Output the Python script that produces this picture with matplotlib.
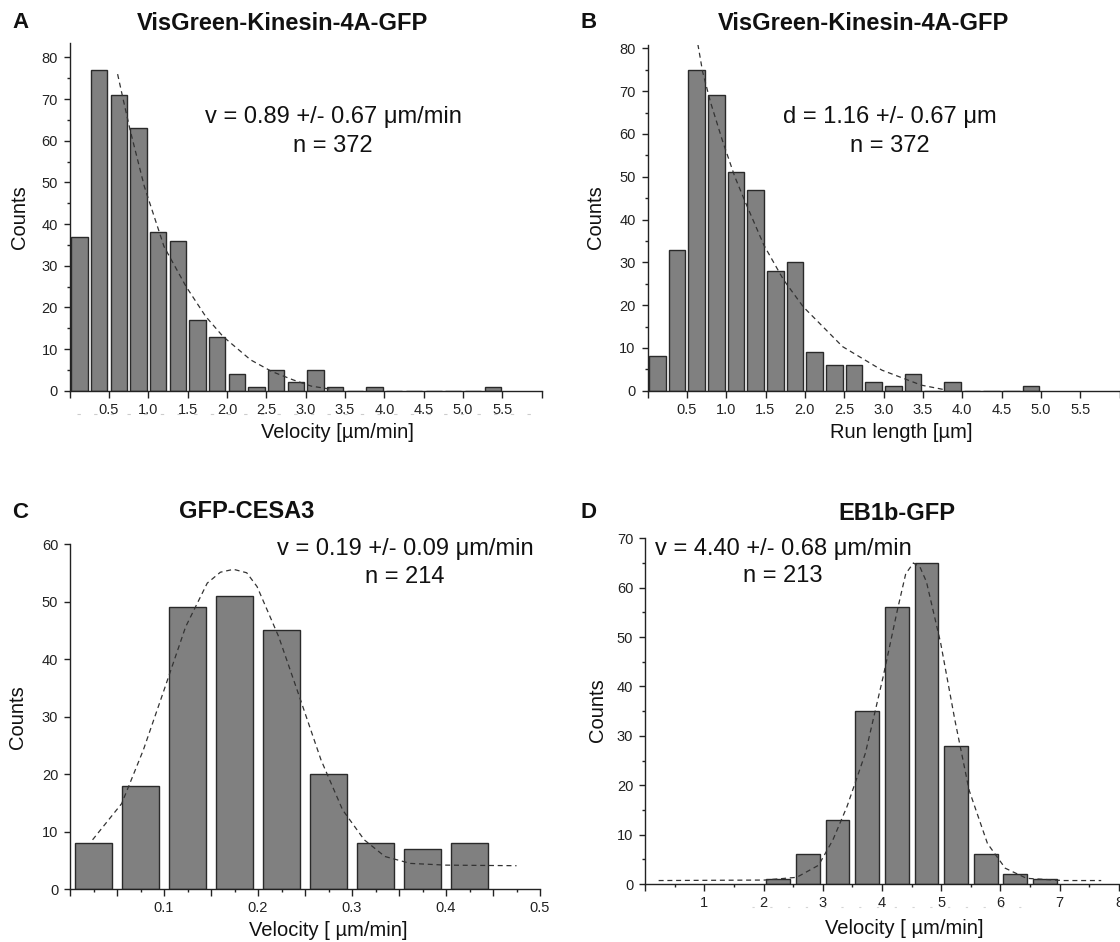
import numpy as np
import matplotlib
matplotlib.use('Agg')
import matplotlib.pyplot as plt
from matplotlib.ticker import MultipleLocator, FuncFormatter
import matplotlib.transforms as mtransforms

plt.rcParams['font.family'] = ['Liberation Sans', 'DejaVu Sans']

# --- dados ---
# A: velocidade VisGreen-Kinesin-4A-GFP (bins de 0.25)
a_centers = [0.125, 0.375, 0.625, 0.875, 1.125, 1.375, 1.625, 1.875, 2.125, 2.375, 2.625,
             2.875, 3.125, 3.375, 3.625, 3.875, 4.125, 4.375, 4.625, 4.875, 5.125, 5.375]
a_counts = [37, 77, 71, 63, 38, 36, 17, 13, 4, 1, 5, 2, 5, 1, 0, 1, 0, 0, 0, 0, 0, 1]
a_fit_x = [0.61, 0.68, 0.77, 0.95, 1.2, 1.48, 1.73, 1.95, 2.3, 2.57, 2.84, 3.07, 3.34]
a_fit_y = [76, 70, 62.5, 49, 34.6, 25, 17.8, 13, 7.4, 4.6, 2.6, 1.1, 0.3]

# B: run length (bins de 0.25)
b_centers = [0.125, 0.375, 0.625, 0.875, 1.125, 1.375, 1.625, 1.875, 2.125, 2.375,
             2.625, 2.875, 3.125, 3.375, 3.625, 3.875, 4.125, 4.375, 4.625, 4.875]
b_counts = [8, 33, 75, 69, 51, 47, 28, 30, 9, 6, 6, 2, 1, 4, 0, 2, 0, 0, 0, 1]
b_fit_x = [0.64, 0.70, 0.80, 0.95, 1.11, 1.25, 1.48, 1.73, 1.98, 2.48, 2.98, 3.48, 3.8]
b_fit_y = [81, 74.6, 67.5, 58.6, 50, 43.8, 34, 25.9, 19.6, 10.3, 4.8, 1.3, 0.15]

# C: GFP-CESA3 (bins de 0.05)
c_centers = [0.025, 0.075, 0.125, 0.175, 0.225, 0.275, 0.325, 0.375, 0.425]
c_counts = [8, 18, 49, 51, 45, 20, 8, 7, 8]
c_fit_x = [0.024, 0.055, 0.078, 0.1, 0.123, 0.146, 0.16, 0.174, 0.188, 0.199, 0.222, 0.244,
           0.267, 0.29, 0.313, 0.335, 0.362, 0.4, 0.475]
c_fit_y = [8.6, 14.9, 24.2, 34.6, 45.6, 53.2, 55.1, 55.6, 55.0, 52.6, 43.9, 33.5,
           22.5, 13.8, 8.6, 5.7, 4.5, 4.2, 4.1]

# D: EB1b-GFP (bins de 0.5)
d_centers = [2.25, 2.75, 3.25, 3.75, 4.25, 4.75, 5.25, 5.75, 6.25, 6.75]
d_counts = [1, 6, 13, 35, 56, 65, 28, 6, 2, 1]
d_fit_x = [0.23, 2.02, 2.56, 2.93, 3.17, 3.41, 3.72, 4.02, 4.26, 4.40, 4.53, 4.64, 4.75,
           4.99, 5.23, 5.47, 5.78, 6.08, 6.44, 7.05, 7.7]
d_fit_y = [0.7, 0.8, 1.35, 3.8, 8.9, 15.7, 26.5, 42, 55.5, 62.8, 65, 64.2, 61.2,
           48.8, 33.2, 19, 8.2, 3.2, 1.15, 0.7, 0.7]

W, H = 1120, 942
fig = plt.figure(figsize=(W / 100, H / 100), dpi=100)


def px(x, y):
    # pixel (origem em cima) -> fracao da figura
    return x / W, 1 - y / H


def make_axes(left, right, top, bottom):
    return fig.add_axes([left / W, 1 - bottom / H, (right - left) / W, (bottom - top) / H])


def style(ax, ymax, yminor):
    ax.spines['top'].set_visible(False)
    ax.spines['right'].set_visible(False)
    for s in ['left', 'bottom']:
        ax.spines[s].set_linewidth(1.0)
        ax.spines[s].set_color('#222222')
    ax.set_ylim(0, ymax)
    ax.yaxis.set_major_locator(MultipleLocator(10))
    if yminor:
        ax.yaxis.set_minor_locator(MultipleLocator(5))
    ax.tick_params(axis='both', which='both', direction='out', color='#222222',
                   labelcolor='#222222', labelsize=10.5, width=1.0)
    ax.tick_params(axis='y', which='major', length=4.5, pad=4)
    ax.tick_params(axis='y', which='minor', length=2.2)
    ax.tick_params(axis='x', which='major', length=5, pad=3.5)
    ax.tick_params(axis='x', which='minor', length=2.5)


def draw(ax, centers, counts, width, fx, fy):
    ax.bar(centers, counts, width=width, color='#808080', edgecolor='#2a2a2a',
           linewidth=1.0, zorder=2)
    ax.plot(fx, fy, color='#333333', lw=0.9, ls=(0, (4, 3)), zorder=3)


txt = dict(color='#111111')

# ---------- A ----------
axA = make_axes(69.6, 541.8, 43.3, 390.7)
draw(axA, a_centers, a_counts, 0.205, a_fit_x, a_fit_y)
style(axA, 83.4, True)
axA.set_xlim(0, 6)
axA.xaxis.set_major_locator(MultipleLocator(0.5))
axA.xaxis.set_major_formatter(FuncFormatter(lambda v, p: '' if v < 0.01 or v > 5.9 else f'{v:.1f}'))
# marcas cinzas fracas abaixo dos rotulos (artefato da figura original)
trA = mtransforms.blended_transform_factory(axA.transData, fig.transFigure)
axA.plot([0.1, 6.0], [1 - 414 / H] * 2, transform=trA, color='#cccccc', lw=0.8,
         ls=(0, (3, 12)), clip_on=False)

# ---------- B ----------
axB = make_axes(647.5, 1119.5, 45, 390.7)
draw(axB, b_centers, b_counts, 0.21, b_fit_x, b_fit_y)
style(axB, 80.8, True)
axB.set_xlim(0, 6)
axB.xaxis.set_major_locator(MultipleLocator(0.5))
axB.xaxis.set_major_formatter(FuncFormatter(lambda v, p: '' if v < 0.01 or v > 5.9 else f'{v:.1f}'))

# ---------- C ----------
axC = make_axes(70, 540, 544, 889.3)
draw(axC, c_centers, c_counts, 0.04, c_fit_x, c_fit_y)
style(axC, 60, False)
axC.set_xlim(0, 0.5)
axC.xaxis.set_major_locator(MultipleLocator(0.05))
axC.xaxis.set_minor_locator(MultipleLocator(0.025))
axC.xaxis.set_major_formatter(FuncFormatter(
    lambda v, p: f'{v:.1f}' if v > 0.01 and round(v * 100) % 10 == 0 else ''))

# ---------- D ----------
axD = make_axes(645, 1119, 538.3, 884)
draw(axD, d_centers, d_counts, 0.4, d_fit_x, d_fit_y)
style(axD, 70, True)
axD.set_xlim(0, 8)
axD.xaxis.set_major_locator(MultipleLocator(1))
axD.xaxis.set_minor_locator(MultipleLocator(0.5))
axD.xaxis.set_major_formatter(FuncFormatter(lambda v, p: '' if v < 0.5 else f'{v:.0f}'))
trD = mtransforms.blended_transform_factory(axD.transData, fig.transFigure)
axD.plot([1.8, 6.6], [1 - 907 / H] * 2, transform=trD, color='#d5d5d5', lw=0.8,
         ls=(0, (2, 14)), clip_on=False)

# ---------- textos ----------
# letras dos paineis
for letter, x, y in [('A', 12.5, 23), ('B', 581, 23), ('C', 12, 512), ('D', 581, 513)]:
    fig.text(*px(x, y), letter, fontsize=16, fontweight='bold', ha='left', va='center', **txt)

# titulos
for title, x, y in [('VisGreen-Kinesin-4A-GFP', 282, 23), ('VisGreen-Kinesin-4A-GFP', 863, 23),
                    ('GFP-CESA3', 247, 512), ('EB1b-GFP', 897, 513)]:
    fig.text(*px(x, y), title, fontsize=17, fontweight='bold', ha='center', va='center', **txt)

# anotacoes (media +/- desvio, n)
notes = [('v = 0.89 +/- 0.67 \u03bcm/min', 'n = 372', 333, 117, 146),
         ('d = 1.16 +/- 0.67 \u03bcm', 'n = 372', 890, 117, 146),
         ('v = 0.19 +/- 0.09 \u03bcm/min', 'n = 214', 405, 549, 577),
         ('v = 4.40 +/- 0.68 \u03bcm/min', 'n = 213', 783, 549, 576)]
for l1, l2, x, y1, y2 in notes:
    fig.text(*px(x, y1), l1, fontsize=17, ha='center', va='center', **txt)
    fig.text(*px(x, y2), l2, fontsize=17, ha='center', va='center', **txt)

# rotulos dos eixos
for x, y in [(19.6, 217), (596, 217), (18, 717), (597.5, 710)]:
    fig.text(*px(x, y), 'Counts', fontsize=14.5, rotation=90, ha='center', va='center', **txt)

for label, x, y in [('Velocity [\u00b5m/min]', 337.5, 433), ('Run length [\u00b5m]', 901, 433),
                    ('Velocity [ \u00b5m/min]', 328, 930), ('Velocity [ \u00b5m/min]', 904, 928)]:
    fig.text(*px(x, y), label, fontsize=14.5, ha='center', va='center', **txt)

fig.savefig('out.png', dpi=100)
